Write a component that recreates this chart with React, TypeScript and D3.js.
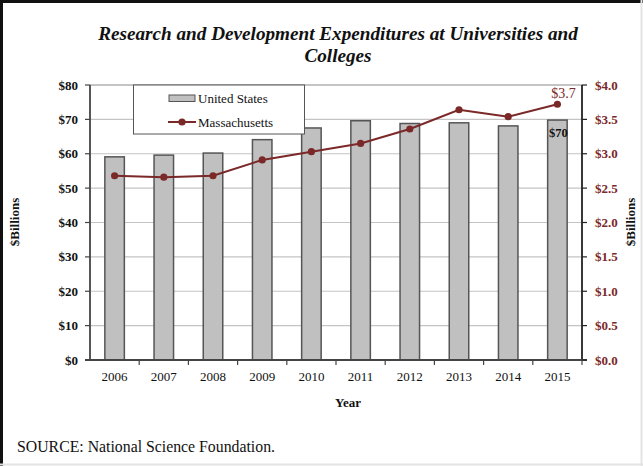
import React from "react";
import * as d3 from "d3";

const years = ["2006", "2007", "2008", "2009", "2010", "2011", "2012", "2013", "2014", "2015"];
const usValues = [59.1, 59.6, 60.2, 64.1, 67.5, 69.6, 68.8, 69.0, 68.1, 69.8];
const maValues = [2.68, 2.66, 2.68, 2.91, 3.03, 3.15, 3.36, 3.64, 3.54, 3.72];
const leftTicks = [0, 10, 20, 30, 40, 50, 60, 70, 80];
const rightTicks = [0, 0.5, 1.0, 1.5, 2.0, 2.5, 3.0, 3.5, 4.0];

const W = 643;
const H = 466;
const M = { left: 90, right: 582, top: 85, bottom: 360 };
const RED = "#7b2828";
const FONT = "'Liberation Serif', 'Times New Roman', serif";

export default function App() {
  const xb = d3.scaleBand<string>().domain(years).range([M.left, M.right]);
  const yL = d3.scaleLinear().domain([0, 80]).range([M.bottom, M.top]);
  const yR = d3.scaleLinear().domain([0, 4]).range([M.bottom, M.top]);
  const cxOf = (i: number) => (xb(years[i]) as number) + xb.bandwidth() / 2;
  const line = d3
    .line<number>()
    .x((_, i) => cxOf(i))
    .y((d) => yR(d));
  const bw = 19.5;

  const lastX = cxOf(9);

  return (
    <svg width={W} height={H} style={{ position: "absolute", left: 0, top: 0, background: "#fff" }} fontFamily={FONT}>
      <rect x={0} y={0} width={W} height={H} fill="#fff" />
      {/* border */}
      <line x1={0} y1={1.5} x2={W} y2={1.5} stroke="#111" strokeWidth={3} />
      <line x1={1.5} y1={0} x2={1.5} y2={H} stroke="#111" strokeWidth={3} />
      <line x1={641.5} y1={0} x2={641.5} y2={H} stroke="#e4e4e4" strokeWidth={2} />
      <line x1={0} y1={464.5} x2={W} y2={464.5} stroke="#e4e4e4" strokeWidth={2} />

      {/* title */}
      <text x={338} y={40} textAnchor="middle" fontSize={19.2} fontWeight="bold" fontStyle="italic" fill="#111">
        Research  and Development Expenditures at Universities and
      </text>
      <text x={338} y={62} textAnchor="middle" fontSize={19.2} fontWeight="bold" fontStyle="italic" fill="#111">
        Colleges
      </text>

      {/* gridlines */}
      {leftTicks.map((t) => (
        <line key={t} x1={M.left} x2={M.right} y1={yL(t)} y2={yL(t)} stroke={t === 80 ? "#8a8a8a" : "#c4c4c4"} strokeWidth={1.2} />
      ))}

      {/* bars */}
      {years.map((yr, i) => (
        <rect
          key={yr}
          x={cxOf(i) - bw / 2}
          y={yL(usValues[i])}
          width={bw}
          height={M.bottom - yL(usValues[i])}
          fill="#c0c0c0"
          stroke="#555"
          strokeWidth={1.5}
        />
      ))}

      {/* axes */}
      <line x1={M.left} x2={M.left} y1={M.top} y2={M.bottom} stroke="#444" strokeWidth={1.8} />
      <line x1={M.right} x2={M.right} y1={M.top} y2={M.bottom} stroke="#222" strokeWidth={1.8} />
      <line x1={M.left - 5} x2={M.right + 5} y1={M.bottom} y2={M.bottom} stroke="#444" strokeWidth={1.8} />

      {leftTicks.map((t) => (
        <g key={"l" + t}>
          <line x1={M.left - 5} x2={M.left} y1={yL(t)} y2={yL(t)} stroke="#444" strokeWidth={1.2} />
          <text x={78} y={yL(t) + 4.5} textAnchor="end" fontSize={13} fontWeight="bold" fill="#111">
            {"$" + t}
          </text>
        </g>
      ))}
      {rightTicks.map((t) => (
        <g key={"r" + t}>
          <line x1={M.right} x2={M.right + 5} y1={yR(t)} y2={yR(t)} stroke="#222" strokeWidth={1.2} />
          <text x={595} y={yR(t) + 4.5} textAnchor="start" fontSize={13} fontWeight="bold" fill={RED}>
            {"$" + t.toFixed(1)}
          </text>
        </g>
      ))}
      {years.map((yr) => (
        <line
          key={"xt" + yr}
          x1={(xb(yr) as number) + xb.bandwidth()}
          x2={(xb(yr) as number) + xb.bandwidth()}
          y1={M.bottom}
          y2={M.bottom + 5}
          stroke="#444"
          strokeWidth={1.2}
        />
      ))}
      {years.map((yr, i) => (
        <text key={"xl" + yr} x={cxOf(i)} y={381} textAnchor="middle" fontSize={13} fill="#111">
          {yr}
        </text>
      ))}

      {/* line series */}
      <path d={line(maValues) as string} fill="none" stroke={RED} strokeWidth={2} />
      {maValues.map((v, i) => (
        <circle key={"m" + i} cx={cxOf(i)} cy={yR(v)} r={3.6} fill={RED} />
      ))}

      {/* annotations */}
      <text x={lastX + 6} y={98} textAnchor="middle" fontSize={14} fill={RED}>
        $3.7
      </text>
      <text x={lastX + 1} y={yL(usValues[9]) + 17} textAnchor="middle" fontSize={12.5} fontWeight="bold" fill="#111">
        $70
      </text>

      {/* legend */}
      <rect x={133.5} y={85} width={171} height={49} fill="#fff" stroke="#555" strokeWidth={1} />
      <rect x={169} y={95} width={26} height={6.5} fill="#c0c0c0" stroke="#555" strokeWidth={1} />
      <text x={198} y={103} fontSize={13} fill="#111">United States</text>
      <line x1={168} x2={196} y1={122} y2={122} stroke={RED} strokeWidth={2} />
      <circle cx={182} cy={122} r={3.6} fill={RED} />
      <text x={198} y={127} fontSize={13} fill="#111">Massachusetts</text>

      {/* axis titles */}
      <text x={348} y={407} textAnchor="middle" fontSize={13} fontWeight="bold" fill="#111">
        Year
      </text>
      <text transform={`translate(19,222) rotate(-90)`} textAnchor="middle" fontSize={13} fontWeight="bold" fill="#111">
        $Billions
      </text>
      <text transform={`translate(635,222) rotate(-90)`} textAnchor="middle" fontSize={13} fontWeight="bold" fill="#111">
        $Billions
      </text>

      {/* source */}
      <text x={17} y={452} fontSize={15.8} fill="#111">
        SOURCE: National Science Foundation.
      </text>
    </svg>
  );
}
